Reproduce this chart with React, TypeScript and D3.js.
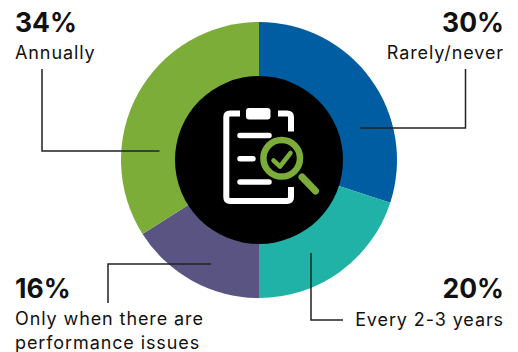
import React from "react";
import * as d3 from "d3";

// Survey shares, clockwise from twelve o'clock
const categories = ["Rarely/never", "Every 2-3 years", "Only when there are performance issues", "Annually"];
const shares = [30, 20, 16, 34];
const sliceColors = ["#005DA2", "#20B2A6", "#5A5482", "#7CAD38"];

const WIDTH = 518;
const HEIGHT = 352;
const CX = 259;
const CY = 160;
const OUTER = 138;
const INNER = 84;

const INK = "#111";
const FONT = "Inter, 'Liberation Sans', Arial, sans-serif";

type Callout = {
  pct: string;
  lines: string[];
  x: number;
  anchor: "start" | "end";
  pctY: number;
  lineY: number[];
  leader: string;
};

const callouts: Callout[] = [
  { pct: `${shares[3]}%`, lines: [categories[3]], x: 15, anchor: "start", pctY: 32, lineY: [59], leader: "M42 69V151H159.5" },
  { pct: `${shares[0]}%`, lines: [categories[0]], x: 504, anchor: "end", pctY: 32, lineY: [59], leader: "M465.5 69V128H360" },
  { pct: `${shares[2]}%`, lines: ["Only when there are", "performance issues"], x: 15, anchor: "start", pctY: 298, lineY: [325, 349], leader: "M108 303V264H211" },
  { pct: `${shares[1]}%`, lines: [categories[1]], x: 504, anchor: "end", pctY: 298, lineY: [326], leader: "M311 253V320H343" },
];

// Clipboard with a magnifying glass, drawn in the donut's hole
function AuditIcon() {
  const white = "#fff";
  const green = "#7CAD38";
  return (
    <g fill="none" strokeLinecap="round" strokeLinejoin="round">
      <path
        d="M240 113.5H230Q226.3 113.5 226.3 117V197Q226.3 201 230 201H287Q291 201 291 197V187M291 131.5V117Q291 113.5 287 113.5H278"
        stroke={white}
        strokeWidth={6}
        strokeLinecap="butt"
      />
      <rect x={246} y={108} width={24.5} height={11.5} rx={3} fill={white} />
      <path d="M240 135.5H269M240 158.7H253M240 182H269" stroke={white} strokeWidth={5.5} />
      <circle cx={281.7} cy={158.3} r={18.3} fill="#000" stroke={green} strokeWidth={6.5} />
      <path d="M302 177L315.5 191" stroke={green} strokeWidth={7} />
      <path d="M273.5 160.5L280 166.5L290.5 153" stroke={green} strokeWidth={4.5} />
    </g>
  );
}

export default function App() {
  const pie = d3.pie<number>().sort(null).value((d) => d);
  const arc = d3.arc<d3.PieArcDatum<number>>().innerRadius(0).outerRadius(OUTER);
  const slices = pie(shares);

  return (
    <svg
      width={WIDTH}
      height={HEIGHT}
      viewBox={`0 0 ${WIDTH} ${HEIGHT}`}
      style={{ position: "absolute", left: 0, top: 0, background: "#fff" }}
    >
      <g transform={`translate(${CX},${CY})`}>
        {slices.map((s, i) => (
          <path key={categories[i]} d={arc(s) ?? ""} fill={sliceColors[i]} />
        ))}
        <circle r={INNER} fill="#000" />
      </g>
      <AuditIcon />
      {callouts.map((c) => (
        <g key={c.pct} fontFamily={FONT} fill={INK} textAnchor={c.anchor}>
          <path d={c.leader} fill="none" stroke="#222" strokeWidth={1.5} />
          <text x={c.x} y={c.pctY} fontSize={26.5} fontWeight={700}>
            {c.pct}
          </text>
          {c.lines.map((line, j) => (
            <text key={line} x={c.x} y={c.lineY[j]} fontSize={18} letterSpacing={0.9}>
              {line}
            </text>
          ))}
        </g>
      ))}
    </svg>
  );
}
